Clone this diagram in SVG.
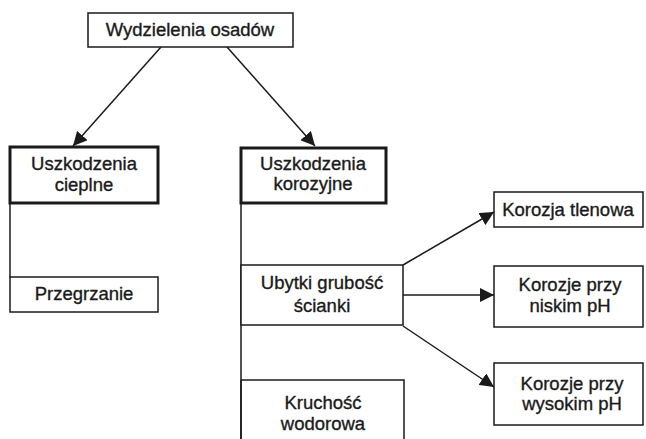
<svg xmlns="http://www.w3.org/2000/svg" width="646" height="439" viewBox="0 0 646 439">
<style>
.box{fill:#fff;stroke:#1a1a1a;stroke-width:1.5}
.thick{fill:#fff;stroke:#1a1a1a;stroke-width:3}
.t{font-family:"Liberation Sans",Arial,sans-serif;font-size:18.5px;fill:#1a1a1a;stroke:#1a1a1a;stroke-width:0.35;text-anchor:middle}
.c{stroke:#1a1a1a;stroke-width:1.5;fill:none}
</style>
<defs>
<marker id="ahs" viewBox="0 0 10 10" refX="10" refY="5" markerWidth="14" markerHeight="14" markerUnits="userSpaceOnUse" orient="auto">
<path d="M0,0 L10,5 L0,10 z" fill="#1a1a1a"/>
</marker>
</defs>
<g id="connectors">
<line class="c" x1="161" y1="47" x2="73" y2="146" marker-end="url(#ahs)"/>
<line class="c" x1="227" y1="47" x2="315" y2="146" marker-end="url(#ahs)"/>
<line class="c" x1="10" y1="203" x2="10" y2="277"/>
<line class="c" x1="241" y1="203" x2="241" y2="439"/>
<line class="c" x1="403" y1="265" x2="494" y2="212" marker-end="url(#ahs)"/>
<line class="c" x1="403" y1="295" x2="494" y2="295" marker-end="url(#ahs)"/>
<line class="c" x1="403" y1="326" x2="494" y2="387" marker-end="url(#ahs)"/>
</g>
<g id="n-root">
<rect class="box" x="88" y="13" width="205" height="34"/>
<text class="t" x="190" y="36">Wydzielenia osadów</text>
</g>
<g id="n-cieplne">
<rect class="thick" x="10" y="147" width="148" height="56"/>
<text class="t" x="84" y="170">Uszkodzenia</text>
<text class="t" x="84" y="191">cieplne</text>
</g>
<g id="n-korozyjne">
<rect class="thick" x="241" y="148" width="145" height="55"/>
<text class="t" x="313" y="170">Uszkodzenia</text>
<text class="t" x="313" y="190">korozyjne</text>
</g>
<g id="n-przegrzanie">
<rect class="box" x="10" y="277" width="148" height="35"/>
<text class="t" x="84" y="300">Przegrzanie</text>
</g>
<g id="n-ubytki">
<rect class="box" x="241" y="265" width="162" height="60"/>
<text class="t" x="322" y="289">Ubytki grubość</text>
<text class="t" x="322" y="312">ścianki</text>
</g>
<g id="n-kruchosc">
<path class="box" d="M241,380 H404 V439 M241,380 V439"/>
<text class="t" x="323" y="409">Kruchość</text>
<text class="t" x="323" y="430">wodorowa</text>
</g>
<g id="n-tlenowa">
<rect class="box" x="494" y="192" width="149" height="35"/>
<text class="t" x="568" y="216">Korozja tlenowa</text>
</g>
<g id="n-niskim">
<rect class="box" x="494" y="266" width="149" height="61"/>
<text class="t" x="570" y="291">Korozje przy</text>
<text class="t" x="570" y="312">niskim pH</text>
</g>
<g id="n-wysokim">
<rect class="box" x="494" y="363" width="149" height="62"/>
<text class="t" x="572" y="390">Korozje przy</text>
<text class="t" x="572" y="410">wysokim pH</text>
</g>
</svg>
